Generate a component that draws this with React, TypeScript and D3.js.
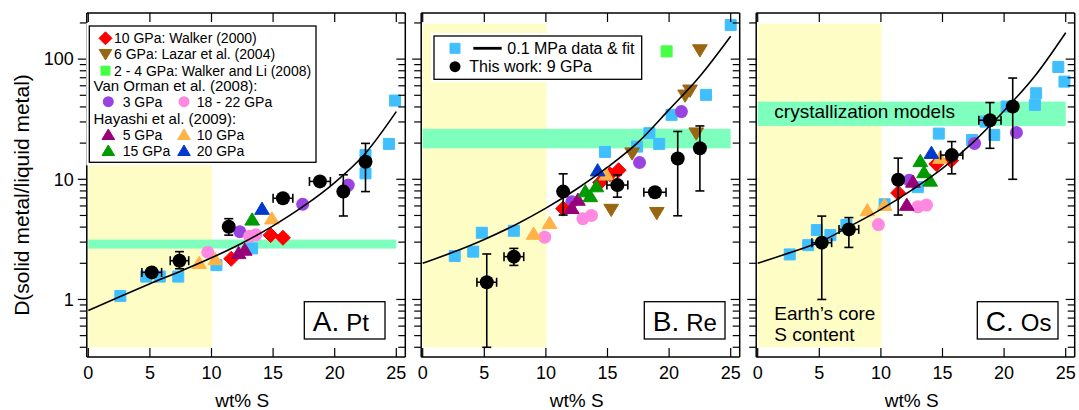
import React from "react";
import * as d3 from "d3";

// ---- data (wt% S, D) ----
const xTicks = [0, 5, 10, 15, 20, 25];
const yMajor = [1, 10, 100];
const yMinor = [0.4, 0.5, 0.6, 0.7, 0.8, 0.9, 2, 3, 4, 5, 6, 7, 8, 9, 20, 30, 40, 50, 60, 70, 80, 90, 200];

const panelLetters = ["A.", "B.", "C."];
const panelElements = ["Pt", "Re", "Os"];

// Earth's core S content window: [x0, x1, D0, D1]
const coreWindow = [0, 10.05, 0.4, 197];
// crystallization models band per panel [Dlow, Dhigh]
const crystBand = [[2.65, 3.15], [18.1, 26.3], [27.8, 44.3]];

// 0.1 MPa fit curve per panel
const fitCurve = [
  [[0, 0.81], [2.5, 1.05], [5, 1.35], [7.5, 1.72], [10, 2.22], [12.5, 2.95], [15, 4.1], [17.5, 6.0], [20, 9.4], [22.5, 16.5], [25, 36.6]],
  [[0, 2.0], [2.5, 2.48], [5, 3.16], [7.5, 4.17], [10, 5.75], [12.5, 8.3], [15, 12.6], [17.5, 20.4], [20, 38], [22.5, 72], [25, 155]],
  [[0, 2.0], [2.5, 2.43], [5, 2.99], [7.5, 4.07], [10, 5.62], [12.5, 8.13], [15, 12.3], [17.5, 20.4], [20, 37.2], [22.5, 72.4], [25, 166]],
];

// 0.1 MPa data
const lowP = [
  [[2.6, 1.07], [4.7, 1.55], [5.8, 1.55], [7.3, 1.55], [10.4, 1.93], [13.3, 2.66], [22.5, 11.2], [22.5, 15.9], [24.4, 19.7], [24.9, 45.2]],
  [[2.6, 2.3], [4.1, 2.5], [4.8, 3.59], [7.4, 3.73], [14.8, 16.9], [17.4, 18.7], [18.4, 24.2], [19.2, 19.7], [20.2, 34.4], [23.0, 50.4], [25.0, 192]],
  [[2.6, 2.37], [4.1, 2.83], [4.8, 3.78], [5.9, 3.43], [7.2, 4.16], [10.3, 6.2], [13.0, 8.6], [14.7, 24], [17.4, 21.2], [18.5, 30.2], [19.2, 23.4], [20.2, 40.3], [22.5, 41.6], [22.6, 52], [24.4, 86], [24.9, 65]],
];
// 6 GPa Lazar et al. (2004)
const lazar = [
  [],
  [[15.3, 5.6], [17.0, 16.5], [19.0, 5.27], [21.3, 50], [21.7, 55], [22.2, 24.2], [22.5, 119]],
  [],
];
// 2 - 4 GPa Walker and Li (2008)
const walkerLi = [[], [[19.8, 116]], []];
// Van Orman et al. (2008) 3 GPa
const vo3 = [
  [[12.3, 3.66], [17.4, 6.2], [21.1, 8.95]],
  [[12.1, 6.5], [17.6, 13.8], [21.0, 36.6]],
  [[12.3, 9.8], [17.6, 19.9], [21.0, 24.5]],
];
// Van Orman et al. (2008) 18 - 22 GPa
const vo18 = [
  [[9.7, 2.47], [13.1, 3.35], [13.6, 3.45]],
  [[9.9, 3.3], [13.0, 4.7], [13.7, 5.0]],
  [[9.8, 4.2], [13.0, 5.9], [13.7, 6.1]],
];
// 10 GPa Walker (2000)
const walker2000 = [
  [[11.6, 2.18], [14.8, 3.43], [15.8, 3.26]],
  [[11.4, 5.7], [14.4, 9.4], [15.2, 11.0], [15.9, 11.9]],
  [[11.4, 7.7], [14.5, 13.4], [15.7, 14.3]],
];
// Hayashi et al. (2009)
const hay5 = [
  [[12.2, 2.42], [12.7, 2.58]],
  [[12.1, 5.74], [12.6, 6.72]],
  [[12.1, 6.1], [12.6, 9.5]],
];
const hay10 = [
  [[9.0, 2.0], [10.3, 2.15], [14.9, 4.7]],
  [[9.0, 3.5], [10.3, 4.3], [14.9, 10.9]],
  [[8.9, 5.5], [10.3, 6.1], [14.8, 15]],
];
const hay15 = [
  [[13.3, 4.6]],
  [[13.2, 7.9], [13.6, 7.2], [14.1, 8.7]],
  [[13.2, 14.1], [13.5, 11.4], [14.0, 9.7]],
];
const hay20 = [[[14.1, 5.65]], [[14.2, 11.8]], [[14.1, 16.5]]];

// This work, 9 GPa: [x, D, xErr, Dlow, Dhigh]
const thisWork = [
  [[5.15, 1.68, 0.8, 1.62, 1.75], [7.4, 2.1, 0.75, 1.8, 2.5], [11.4, 4.03, 0, 3.43, 4.7], [15.8, 6.95, 0.8, 6.4, 7.5], [18.8, 9.6, 0.85, 9.2, 10.0], [20.7, 7.9, 0, 4.95, 10.9], [22.5, 14.0, 0, 7.9, 19.9]],
  [[5.2, 1.39, 0.8, 0.4, 2.39], [7.4, 2.27, 0.8, 1.92, 2.66], [11.4, 7.9, 0, 5.04, 11.1], [15.8, 8.95, 0.85, 7.1, 10.9], [18.85, 7.8, 0.9, 7.2, 8.5], [20.7, 14.9, 0, 4.97, 25], [22.5, 18.1, 0, 8.0, 27.8]],
  [[5.2, 2.97, 0.8, 1.0, 4.94], [7.4, 3.83, 0.8, 2.71, 4.8], [11.4, 9.9, 0, 5.04, 15], [15.75, 15.9, 0.9, 11.1, 20.6], [18.85, 31, 0.9, 18.1, 43.5], [20.7, 40.3, 0, 10, 69.6]],
];

// ---- styles ----
const YELLOW = "#fffdc6";
const BAND = "#7fffbe";
const st = {
  lowP: { shape: "square", color: "#40bfff", r: 5.5 },
  lazar: { shape: "down", color: "#996611", r: 7 },
  walkerLi: { shape: "square", color: "#44ff44", r: 5.5 },
  vo3: { shape: "circle", color: "#9944e0", r: 6.5 },
  vo18: { shape: "circle", color: "#ff88e0", r: 6.5 },
  walker2000: { shape: "diamond", color: "#ff0000", r: 7.5 },
  hay5: { shape: "up", color: "#990077", r: 7 },
  hay10: { shape: "up", color: "#ffb347", r: 7 },
  hay15: { shape: "up", color: "#009900", r: 7 },
  hay20: { shape: "up", color: "#0039cc", r: 7 },
};
const seriesOrder = [
  [lowP, st.lowP], [lazar, st.lazar], [walkerLi, st.walkerLi], [vo3, st.vo3], [vo18, st.vo18],
  [walker2000, st.walker2000], [hay5, st.hay5], [hay10, st.hay10], [hay15, st.hay15], [hay20, st.hay20],
];

const W = 1079, H = 410;
const TOP = 13, BOTTOM = 357;
const zeroPx = [88.3, 422.7, 757.7];
const SPAN = 308;
const FONT = "'Liberation Sans', Arial, Helvetica, sans-serif";
const labelBox = [[304.3, 301.7], [644.3, 301.7], [977.3, 301.7]];

function Marker({ shape, color, cx, cy, r }) {
  if (shape === "circle") return <circle cx={cx} cy={cy} r={r} fill={color} />;
  let d = "";
  if (shape === "square") d = `M${cx - r},${cy - r}h${2 * r}v${2 * r}h${-2 * r}Z`;
  if (shape === "diamond") d = `M${cx},${cy - r}L${cx + r},${cy}L${cx},${cy + r}L${cx - r},${cy}Z`;
  if (shape === "up") d = `M${cx},${cy - r}L${cx + r * 1.05},${cy + r * 0.75}L${cx - r * 1.05},${cy + r * 0.75}Z`;
  if (shape === "down") d = `M${cx},${cy + r}L${cx + r * 1.05},${cy - r * 0.75}L${cx - r * 1.05},${cy - r * 0.75}Z`;
  return <path d={d} fill={color} stroke={color} strokeWidth={1} strokeLinejoin="round" />;
}

function Panel({ i, y }) {
  const z = zeroPx[i];
  const x = d3.scaleLinear().domain([0, 25]).range([z, z + SPAN]);
  const L = z - 1.5;
  const R = z + SPAN + 9;
  const line = d3
    .line()
    .x(d => x(d[0]))
    .y(d => y(d[1]))
    .curve(d3.curveMonotoneX);
  const [bx, by] = labelBox[i];

  return (
    <g>
      {/* core S window */}
      <rect x={x(coreWindow[0])} y={y(coreWindow[3])} width={x(coreWindow[1]) - x(coreWindow[0])}
        height={y(coreWindow[2]) - y(coreWindow[3])} fill={YELLOW} />
      {/* crystallization band */}
      <rect x={x(0)} y={y(crystBand[i][1])} width={x(25) - x(0)} height={y(crystBand[i][0]) - y(crystBand[i][1])} fill={BAND} />
      {i === 2 && (
        <text x={x(1.35)} y={118} fontSize={19}>crystallization models</text>
      )}
      {i === 2 && (
        <text fontSize={19}>
          <tspan x={x(1.35)} y={320}>Earth’s core</tspan>
          <tspan x={x(1.35)} y={341}>S content</tspan>
        </text>
      )}

      {/* other studies */}
      {seriesOrder.map(([data, s], k) =>
        data[i].map((d, j) => (
          <Marker key={k + "-" + j} shape={s.shape} color={s.color} r={s.r} cx={x(d[0])} cy={y(d[1])} />
        ))
      )}

      {/* fit */}
      <path d={line(fitCurve[i])} fill="none" stroke="#000" strokeWidth={1.6} />

      {/* this work */}
      {thisWork[i].map((d, j) => {
        const cx = x(d[0]), cy = y(d[1]);
        const y0 = y(d[3]), y1 = y(d[4]);
        const x0 = x(d[0] - d[2]), x1 = x(d[0] + d[2]);
        return (
          <g key={j} stroke="#000" strokeWidth={1.6}>
            <line x1={cx} x2={cx} y1={y0} y2={y1} />
            <line x1={cx - 4.5} x2={cx + 4.5} y1={y0} y2={y0} />
            <line x1={cx - 4.5} x2={cx + 4.5} y1={y1} y2={y1} />
            {d[2] > 0 && (
              <>
                <line x1={x0} x2={x1} y1={cy} y2={cy} />
                <line x1={x0} x2={x0} y1={cy - 4.5} y2={cy + 4.5} />
                <line x1={x1} x2={x1} y1={cy - 4.5} y2={cy + 4.5} />
              </>
            )}
            <circle cx={cx} cy={cy} r={7} fill="#000" stroke="none" />
          </g>
        );
      })}

      {/* frame and ticks */}
      <g stroke="#000" fill="none">
        <line x1={L} x2={L} y1={TOP} y2={BOTTOM} strokeWidth={1.5} />
        <line x1={R} x2={R} y1={TOP} y2={BOTTOM} strokeWidth={1.5} />
        <line x1={L} x2={R} y1={TOP} y2={TOP} strokeWidth={1.5} />
        <line x1={L} x2={R} y1={BOTTOM} y2={BOTTOM} strokeWidth={1.5} />
        {xTicks.map(t => (
          <g key={t} strokeWidth={1.2}>
            <line x1={x(t)} x2={x(t)} y1={BOTTOM} y2={BOTTOM - 9} />
            <line x1={x(t)} x2={x(t)} y1={TOP} y2={TOP + 9} />
          </g>
        ))}
        {yMajor.map(t => (
          <g key={t} strokeWidth={1.2}>
            <line x1={L - 9} x2={L} y1={y(t)} y2={y(t)} />
            <line x1={R - 9} x2={R} y1={y(t)} y2={y(t)} />
          </g>
        ))}
        {yMinor.map(t => (
          <g key={t} strokeWidth={1.2}>
            <line x1={L - 7} x2={L} y1={y(t)} y2={y(t)} />
            <line x1={R - 7} x2={R} y1={y(t)} y2={y(t)} />
          </g>
        ))}
      </g>

      {/* tick labels */}
      {xTicks.map(t => (
        <text key={t} x={x(t)} y={379} fontSize={18} textAnchor="middle">{t}</text>
      ))}
      {i === 0 &&
        yMajor.map(t => (
          <text key={t} x={L - 13} y={y(t)} dy="0.35em" fontSize={18} textAnchor="end">{t}</text>
        ))}
      <text x={x(12.5)} y={407} fontSize={19} textAnchor="middle">wt% S</text>

      {/* panel label */}
      <rect x={bx} y={by} width={80.7} height={37.3} fill="#fff" stroke="#000" strokeWidth={1.3} />
      <text x={bx + 8.5} y={by + 29} fontSize={28}>
        {panelLetters[i]}
        <tspan dx={7} fontSize={24}>{panelElements[i]}</tspan>
      </text>
    </g>
  );
}

function LegendA() {
  const bx = 89.3, by = 26, bw = 226.7, bh = 136.3;
  const rowsTop = [
    [st.walker2000, "10 GPa: Walker (2000)", 38.3],
    [st.lazar, "6 GPa: Lazar et al. (2004)", 54],
    [st.walkerLi, "2 - 4 GPa: Walker and Li (2008)", 70.7],
  ];
  const pairs = [
    [st.vo3, "3 GPa", st.vo18, "18 - 22 GPa", 101.7],
    [st.hay5, "5 GPa", st.hay10, "10 GPa", 135],
    [st.hay15, "15 GPa", st.hay20, "20 GPa", 151],
  ];
  const small = s => (s.shape === "circle" ? 5.5 : s.shape === "square" ? 4.5 : s.shape === "diamond" ? 6.5 : 6);
  return (
    <g fontSize={14}>
      <rect x={bx - 3} y={by - 3} width={bw + 6} height={bh + 6} fill="#fff" />
      <rect x={bx} y={by} width={bw} height={bh} fill="#fff" stroke="#000" strokeWidth={1.3} />
      {rowsTop.map(([s, label, cy]) => (
        <g key={label}>
          <Marker shape={s.shape} color={s.color} r={small(s)} cx={105.5} cy={cy} />
          <text x={114} y={cy} dy="0.36em">{label}</text>
        </g>
      ))}
      <text x={93.5} y={86} dy="0.36em" fontSize={15}>Van Orman et al. (2008):</text>
      <text x={93.5} y={118.3} dy="0.36em" fontSize={15}>Hayashi et al. (2009):</text>
      {pairs.map(([s1, l1, s2, l2, cy]) => (
        <g key={l1}>
          <Marker shape={s1.shape} color={s1.color} r={small(s1)} cx={108.3} cy={cy} />
          <text x={122.7} y={cy} dy="0.36em">{l1}</text>
          <Marker shape={s2.shape} color={s2.color} r={small(s2)} cx={184} cy={cy} />
          <text x={196.7} y={cy} dy="0.36em">{l2}</text>
        </g>
      ))}
    </g>
  );
}

function LegendB() {
  const bx = 434, by = 36, bw = 207.7, bh = 43.3;
  return (
    <g fontSize={16}>
      <rect x={bx - 3} y={by - 3} width={bw + 6} height={bh + 6} fill="#fff" />
      <rect x={bx} y={by} width={bw} height={bh} fill="#fff" stroke="#000" strokeWidth={1.3} />
      <Marker shape="square" color={st.lowP.color} r={5} cx={455} cy={48.3} />
      <line x1={473.3} x2={501.7} y1={48.3} y2={48.3} stroke="#000" strokeWidth={2.8} />
      <text x={507.3} y={48.3} dy="0.36em">0.1 MPa data &amp; fit</text>
      <circle cx={455} cy={66.7} r={5.5} fill="#000" />
      <text x={469.3} y={66.7} dy="0.36em">This work: 9 GPa</text>
    </g>
  );
}

export default function App() {
  const y = d3.scaleLog().domain([0.332, 242]).range([BOTTOM, TOP]);
  return (
    <svg width={W} height={H} fontFamily={FONT} style={{ position: "absolute", left: 0, top: 0, background: "#fff" }}>
      {[0, 1, 2].map(i => (
        <Panel key={i} i={i} y={y} />
      ))}
      <LegendA />
      <LegendB />
      <text transform="translate(22,195) rotate(-90)" textAnchor="middle" dy="0.35em" fontSize={21}>
        D(solid metal/liquid metal)
      </text>
    </svg>
  );
}
